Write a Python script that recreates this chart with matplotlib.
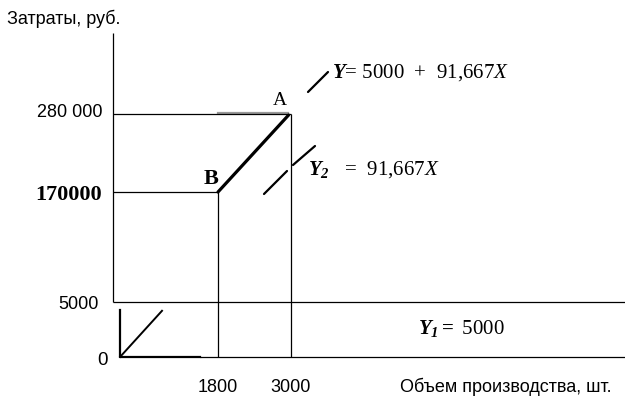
import numpy as np
import matplotlib
matplotlib.use('Agg')
import matplotlib.pyplot as plt
from matplotlib.transforms import offset_copy

plt.rcParams['mathtext.fontset'] = 'custom'
plt.rcParams['mathtext.rm'] = 'Liberation Serif'
plt.rcParams['mathtext.it'] = 'Liberation Serif:italic'
plt.rcParams['mathtext.bf'] = 'Liberation Serif:bold'
plt.rcParams['mathtext.bfit'] = 'Liberation Serif:italic:bold'

# --- data ---
volumes = [1800, 3000]
volume_labels = ['1800', '3000']
fixed_cost = 5000
cost_b = 170000
cost_a = 280000
point_b = (1800, cost_b)
point_a = (3000, cost_a)
x_max = 8500
y_max = 365000

# schematic (not to scale) axes: value -> pixels from the origin
x_knots = [0, 1800, 3000, 8500]
x_pix = [0, 105, 178, 512]
y_knots = [0, 5000, 170000, 280000, 365000]
y_pix = [0, 55, 165, 243, 324]

# small sketch of the origin (the Y2 line drawn in miniature)
inset_x_end = 1490
inset_y_top = 4300
inset_diag = (840, 4200)

SANS = 'Liberation Sans'
SERIF = 'Liberation Serif'


def make_scale(knots, pix):
    k = np.array(knots, float)
    p = np.array(pix, float)
    s0 = (p[1] - p[0]) / (k[1] - k[0])
    s1 = (p[-1] - p[-2]) / (k[-1] - k[-2])
    k = np.concatenate([[k[0] - 1e7], k, [k[-1] + 1e7]])
    p = np.concatenate([[p[0] - 1e7 * s0], p, [p[-1] + 1e7 * s1]])

    def fwd(v):
        return np.interp(v, k, p)

    def inv(v):
        return np.interp(v, p, k)
    return fwd, inv


fig = plt.figure(figsize=(6.25, 3.97), dpi=100)
ax = fig.add_axes([113 / 625, 40 / 397, 512 / 625, 324 / 397])
ax.set_xscale('function', functions=make_scale(x_knots, x_pix))
ax.set_yscale('function', functions=make_scale(y_knots, y_pix))
ax.set_xlim(0, x_max)
ax.set_ylim(0, y_max)
ax.axis('off')

thin = dict(color='black', lw=0.9, clip_on=False, solid_capstyle='butt')

# axes and guide lines
ax.plot([0, 0], [fixed_cost, y_max], **thin)
ax.plot([0, x_max], [fixed_cost, fixed_cost], **thin)
ax.plot([0, point_a[0]], [cost_a, cost_a], zorder=3, **thin)
ax.plot([0, point_b[0]], [cost_b, cost_b], **thin)
ax.plot([point_b[0], point_b[0]], [0, cost_b], **thin)
ax.plot([point_a[0], point_a[0]], [0, cost_a], **thin)
ax.plot([inset_x_end, x_max], [0, 0], **thin)
ax.plot([point_b[0], point_a[0] - 50], [cost_a, cost_a], color='0.6', lw=1.6,
        transform=offset_copy(ax.transData, fig=fig, y=1, units='dots'), zorder=2)

# variable-cost segment B -> A
ax.plot([point_b[0], point_a[0] - 40], [cost_b, cost_a - 1500], color='black',
        lw=2.3, solid_capstyle='round', zorder=4)

# miniature sketch at the origin
ax.plot([120, 120, inset_x_end], [inset_y_top, 0, 0], color='black', lw=1.6,
        clip_on=False)
ax.plot([120, inset_diag[0]], [0, inset_diag[1]], color='black', lw=1.4,
        clip_on=False)

# leader strokes next to the formulas, in pixels relative to A
strokes = [((17, 22), (37, 42)), ((2, -51), (24, -32)), ((-27, -80), (-4, -57))]
for (x0, y0), (x1, y1) in strokes:
    ax.annotate('', xy=point_a,
                xycoords=offset_copy(ax.transData, fig=fig, x=x0, y=y0, units='dots'),
                xytext=(x1 - x0, y1 - y0), textcoords='offset pixels',
                arrowprops=dict(arrowstyle='-', lw=1.6, shrinkA=0, shrinkB=0,
                                color='black'))

# cost tick labels
ytick = ax.get_yaxis_transform()
ax.annotate('0', xy=(0, 0), xycoords=ytick, xytext=(-5, -8),
            textcoords='offset pixels', ha='right', va='baseline',
            family=SANS, fontsize=13.5)
ax.annotate('5000', xy=(0, fixed_cost), xycoords=ytick, xytext=(-14, -7),
            textcoords='offset pixels', ha='right', va='baseline',
            family=SANS, fontsize=13)
ax.annotate('280 000', xy=(0, cost_a), xycoords=ytick, xytext=(-10, -3),
            textcoords='offset pixels', ha='right', va='baseline',
            family=SANS, fontsize=13)
ax.annotate('170000', xy=(0, cost_b), xycoords=ytick, xytext=(-11, -8),
            textcoords='offset pixels', ha='right', va='baseline',
            family=SERIF, fontweight='bold', fontsize=16)

# volume tick labels
for v, lab in zip(volumes, volume_labels):
    ax.annotate(lab, xy=(v, 0), xytext=(0, -35), textcoords='offset pixels',
                ha='center', va='baseline', family=SANS, fontsize=13)

ax.annotate('Объем производства, шт.', xy=(1, 0), xycoords='axes fraction',
            xytext=(-13, -35), textcoords='offset pixels', ha='right',
            va='baseline', family=SANS, fontsize=13)
fig.text(7 / 625, 1 - 23.5 / 397, 'Затраты, руб.', family=SANS, fontsize=13,
         va='baseline')

# point names
ax.annotate('A', xy=point_a, xytext=(-11, 9), textcoords='offset pixels',
            ha='center', va='baseline', family=SERIF, fontsize=14)
ax.annotate('B', xy=point_b, xytext=(0, 8), textcoords='offset pixels',
            ha='right', va='baseline', family=SERIF, fontweight='bold',
            fontsize=16)

# formulas
ax.annotate(r'$\mathbfit{Y}$= 5000  +  91,667$\mathit{X}$', xy=point_a,
            xytext=(41, 36), textcoords='offset pixels', ha='left',
            va='baseline', family=SERIF, fontsize=15)
ax.annotate(r'$\mathbfit{Y}_{\mathbfit{2}}$   =  91,667$\mathit{X}$', xy=point_a,
            xytext=(17, -61), textcoords='offset pixels', ha='left',
            va='baseline', family=SERIF, fontsize=15)
ax.annotate(r'$\mathbfit{Y}_{\mathbfit{1}}\mathbf{=}$ 5000', xy=(point_a[0], fixed_cost),
            xytext=(127, -32), textcoords='offset pixels', ha='left',
            va='baseline', family=SERIF, fontsize=15)

fig.savefig('out.png', dpi=100)
